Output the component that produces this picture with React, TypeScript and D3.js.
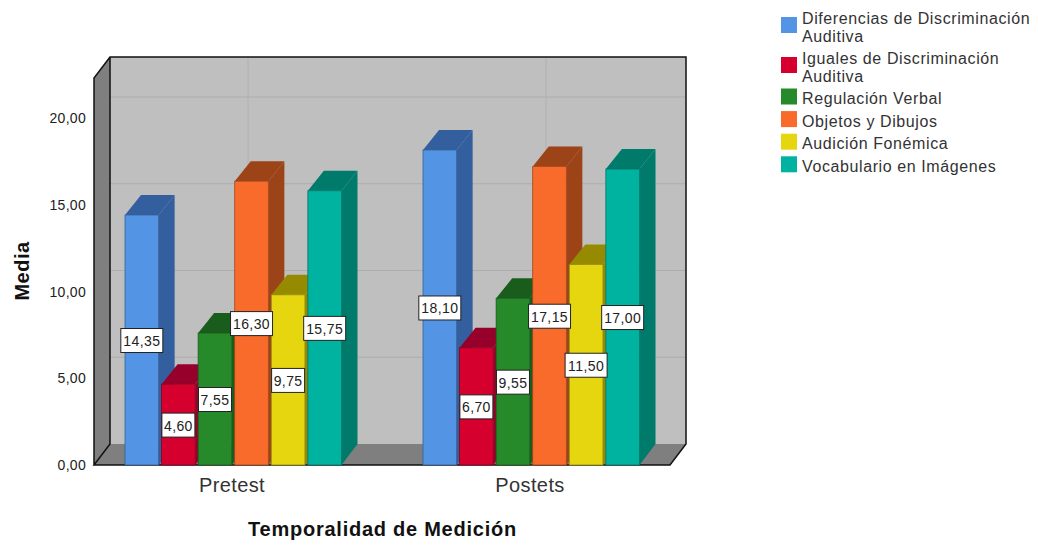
import * as d3 from "d3";

const categories = ["Pretest", "Postets"];
const seriesNames = [
  "Diferencias de Discriminación Auditiva",
  "Iguales de Discriminación Auditiva",
  "Regulación Verbal",
  "Objetos y Dibujos",
  "Audición Fonémica",
  "Vocabulario en Imágenes",
];
const pretestValues = [14.35, 4.6, 7.55, 16.3, 9.75, 15.75];
const postestValues = [18.1, 6.7, 9.55, 17.15, 11.5, 17.0];
const yTicks = [0, 5, 10, 15, 20];
const frontColors = ["#5394e4", "#d6002f", "#278a2a", "#f86b2a", "#e6d60f", "#00b3a0"];
const sideColors = ["#335f9e", "#96002a", "#1a5c1c", "#9c4317", "#968b00", "#007a6b"];

const fmt = (v: number) => v.toFixed(2).replace(".", ",");

const dx = 16;
const dy = -21;
const base = 465;
const left = 94;
const right = 670;
const top = 78;

const y = d3.scaleLinear().domain([0, 20]).range([base, 118]);
const x0 = d3.scaleBand().domain(categories).range([83, 679]);
const x1 = d3.scaleBand<number>().domain(d3.range(6)).range([42, 258.5]).paddingInner(0.08);

const poly = (pts: number[][]) => d3.line()(pts as [number, number][]) + "Z";

function Bar({ cat, i, v }: { cat: string; i: number; v: number }) {
  const xa = x0(cat)! + x1(i)!;
  const xb = xa + x1.bandwidth();
  const yt = y(v) - 1;
  const front = frontColors[i];
  const side = sideColors[i];
  return (
    <g>
      <path d={poly([[xa, yt], [xa + dx, yt + dy + 1], [xb + dx, yt + dy + 1], [xb, yt]])} fill={side} />
      <path d={poly([[xb, yt], [xb + dx, yt + dy + 1], [xb + dx, base + dy], [xb, base]])} fill={side} />
      <rect x={xa} y={yt} width={xb - xa} height={base - yt} fill={front} stroke={d3.color(front)!.darker(1.2).formatHex()} strokeWidth={0.8} />
    </g>
  );
}

function Label({ cat, i, v }: { cat: string; i: number; v: number }) {
  const cx = x0(cat)! + x1(i)! + x1.bandwidth() / 2;
  const cy = y(v / 2);
  const w = v >= 10 ? 42 : 33;
  return (
    <g>
      <rect x={cx - w / 2} y={cy - 12} width={w} height={24} fill="#ffffff" stroke="#222" strokeWidth={1} />
      <text x={cx} y={cy + 5.5} textAnchor="middle" fontSize={14} fill="#222" letterSpacing={0.4}>
        {fmt(v)}
      </text>
    </g>
  );
}

function splitName(name: string) {
  if (name.length < 26) return [name];
  const at = name.lastIndexOf(" ");
  return [name.slice(0, at), name.slice(at + 1)];
}

export default function App() {
  const rows = categories.map((cat, c) => ({
    cat,
    values: c === 0 ? pretestValues : postestValues,
  }));

  let baseline = 24;
  const legend = seriesNames.map((name, i) => {
    const lines = splitName(name);
    const entry = { name, i, lines, baseline };
    baseline += lines.length === 2 ? 40 : 22.6;
    return entry;
  });

  return (
    <svg
      width={1038}
      height={545}
      style={{ position: "absolute", left: 0, top: 0 }}
      fontFamily="'Liberation Sans', Arial, sans-serif"
    >
      <rect width={1038} height={545} fill="#ffffff" />

      {/* walls */}
      <rect x={left + dx} y={top + dy} width={right - left} height={base - top} fill="#bfbfbf" />
      <path d={poly([[left, top], [left + dx, top + dy], [left + dx, base + dy], [left, base]])} fill="#7f7f7f" />
      <path d={poly([[left, base], [left + dx, base + dy], [right + dx, base + dy], [right, base]])} fill="#7f7f7f" />

      {/* grid */}
      {yTicks.slice(1).map((t) => (
        <path key={t} d={`M${left + dx},${y(t) + dy}H${right + dx}`} stroke="#adadad" strokeWidth={1} />
      ))}
      {categories.map((c) => (
        <path key={c} d={`M${x0(c)! + x0.bandwidth() / 2 + dx},${top + dy}V${base + dy}`} stroke="#b0b0b0" strokeWidth={1} />
      ))}

      {/* frame */}
      <path
        d={`M${left},${base}V${top}L${left + dx},${top + dy}H${right + dx}V${base + dy}L${right},${base}H${left}L${left + dx},${base + dy}V${top + dy}`}
        fill="none"
        stroke="#111"
        strokeWidth={1.5}
      />

      {rows.map((r) =>
        r.values.map((v, i) => <Bar key={r.cat + i} cat={r.cat} i={i} v={v} />),
      )}
      {rows.map((r) =>
        r.values.map((v, i) => <Label key={r.cat + i} cat={r.cat} i={i} v={v} />),
      )}

      {/* y axis */}
      {yTicks.map((t) => (
        <text key={t} x={86} y={y(t) + 5} textAnchor="end" fontSize={14} fill="#222" letterSpacing={0.3}>
          {fmt(t)}
        </text>
      ))}
      <text
        transform="translate(29,271) rotate(-90)"
        textAnchor="middle"
        fontSize={20}
        fontWeight="bold"
        fill="#111"
        letterSpacing={0.5}
      >
        Media
      </text>

      {/* x axis */}
      {categories.map((c) => (
        <text key={c} x={x0(c)! + x0.bandwidth() / 2} y={492} textAnchor="middle" fontSize={20} fill="#333" letterSpacing={0.4}>
          {c}
        </text>
      ))}
      <text x={382.5} y={536} textAnchor="middle" fontSize={20} fontWeight="bold" fill="#111" letterSpacing={0.75}>
        Temporalidad de Medición
      </text>

      {/* legend */}
      {legend.map((e) => (
        <g key={e.name}>
          <rect
            x={781}
            y={e.baseline + (e.lines.length === 2 ? -7 : -15.5)}
            width={16}
            height={16}
            fill={frontColors[e.i]}
          />
          {e.lines.map((line, k) => (
            <text key={k} x={802} y={e.baseline + k * 18} fontSize={16} fill="#333" letterSpacing={0.6}>
              {line}
            </text>
          ))}
        </g>
      ))}
    </svg>
  );
}
